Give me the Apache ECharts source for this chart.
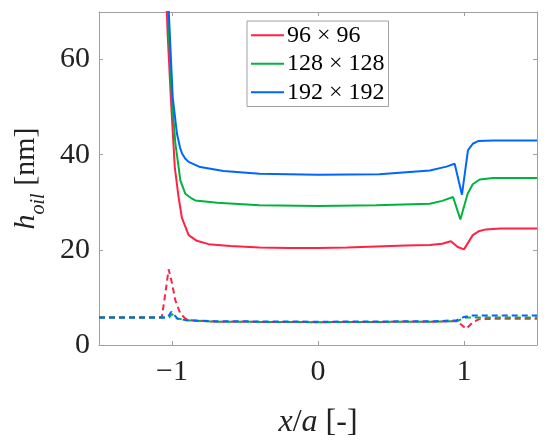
<!DOCTYPE html>
<html>
<head>
<meta charset="utf-8">
<script src="https://cdn.jsdelivr.net/npm/echarts@6/dist/echarts.min.js"></script>
<style>
  html, body { margin: 0; padding: 0; background: #fff; }
  #chart { width: 550px; height: 448px; }
</style>
</head>
<body>
<div id="chart"></div>
<script>
// grid sizes
const xTicks = [-1, 0, 1]
const yTicks = [0, 20, 40, 60]
const legendNames = ['96 × 96', '128 × 128', '192 × 192']
const colors = ['#ff2244', '#00b33c', '#0066ff']

// solid curves: h_oil on the mid line, [x/a, nm]
const solid96 = [
  [-1.04, 74], [-1.030, 65.5], [-1.007, 51.4], [-0.981, 37.4], [-0.955, 31.1],
  [-0.932, 26.7], [-0.886, 23.1], [-0.83, 21.9], [-0.75, 21.2], [-0.6, 20.8],
  [-0.4, 20.5], [-0.2, 20.4], [0, 20.4], [0.2, 20.5], [0.4, 20.7], [0.6, 20.9],
  [0.766, 21.0], [0.85, 21.3], [0.91, 21.8], [0.957, 20.6], [1.0, 20.1],
  [1.06, 23.1], [1.1, 23.9], [1.15, 24.3], [1.25, 24.5], [1.5, 24.5]
]
const solid128 = [
  [-1.033, 74], [-1.0, 51.4], [-0.977, 42.4], [-0.955, 37.5], [-0.943, 34.6],
  [-0.909, 31.8], [-0.87, 30.9], [-0.84, 30.4], [-0.69, 29.9], [-0.4, 29.4],
  [0, 29.2], [0.4, 29.4], [0.766, 29.7], [0.85, 30.3], [0.925, 31.1],
  [0.975, 26.4], [1.025, 31.8], [1.06, 33.8], [1.107, 34.8], [1.2, 35.1], [1.5, 35.1]
]
const solid192 = [
  [-1.028, 74], [-0.995, 52], [-0.966, 44.4], [-0.945, 41.5], [-0.932, 40.3],
  [-0.91, 39.2], [-0.886, 38.5], [-0.807, 37.4], [-0.647, 36.6], [-0.4, 36.0],
  [0, 35.8], [0.42, 35.9], [0.766, 36.7], [0.88, 37.5], [0.936, 38.1],
  [0.986, 31.6], [1.027, 40.9], [1.06, 42.3], [1.1, 42.9], [1.2, 43.0], [1.5, 43.0]
]

// dashed curves
const dashed96 = [
  [-1.5, 5.8], [-1.07, 5.8], [-1.045, 11], [-1.023, 15.9], [-1.0, 13],
  [-0.977, 9.4], [-0.943, 6.6], [-0.91, 5.6], [-0.875, 5.2], [-0.7, 4.9],
  [0, 4.8], [0.8, 4.9], [0.95, 5.0], [0.98, 4.3], [1.016, 3.4], [1.06, 4.8],
  [1.1, 5.4], [1.2, 5.5], [1.5, 5.5]
]
const dashed128 = [
  [-1.5, 5.8], [-1.02, 5.8], [-1.0, 6.5], [-0.97, 5.6], [-0.9, 5.2], [-0.7, 4.9],
  [0, 4.8], [0.8, 4.9], [0.95, 5.0], [0.98, 5.4], [1.02, 5.8], [1.05, 5.8],
  [1.2, 5.8], [1.5, 5.8]
]
const dashed192 = [
  [-1.5, 5.8], [-1.03, 5.8], [-1.005, 7.0], [-0.96, 5.5], [-0.9, 5.2], [-0.7, 5.0],
  [0, 4.9], [0.8, 5.0], [0.95, 5.2], [1.0, 5.9], [1.05, 6.2], [1.2, 6.2], [1.5, 6.2]
]

const serif = "'Liberation Serif', 'Times New Roman', serif"
const axisGray = '#a0a0a0'

function frameAxis(extra) {
  return Object.assign({
    type: 'value',
    axisLine: { show: true, onZero: false, lineStyle: { color: axisGray, width: 1 } },
    axisTick: { show: true, inside: true, length: 4, lineStyle: { color: axisGray } },
    splitLine: { show: false }
  }, extra)
}

function line(name, data, color, dashed) {
  return {
    name: name,
    type: 'line',
    data: data,
    showSymbol: false,
    symbol: 'none',
    clip: true,
    lineStyle: { color: color, width: 2, type: dashed ? [6, 4] : 'solid' },
    itemStyle: { color: color },
    z: dashed ? 3 : 2
  }
}

const chart = echarts.init(document.getElementById('chart'))
chart.setOption({
  animation: false,
  grid: { left: 99, right: 13, top: 12, bottom: 103 },
  legend: {
    data: legendNames,
    orient: 'vertical',
    left: 247,
    top: 21,
    icon: 'rect',
    itemWidth: 33,
    itemHeight: 2,
    itemGap: 0,
    padding: [0, 4, 0, 4],
    backgroundColor: '#fff',
    borderColor: axisGray,
    borderWidth: 1,
    textStyle: { fontFamily: serif, fontSize: 24, color: '#000', lineHeight: 28.5, padding: [0, 0, 0, -2] }
  },
  xAxis: [
    frameAxis({
      min: -1.5, max: 1.5, position: 'bottom',
      axisTick: { show: true, inside: true, length: 4, lineStyle: { color: axisGray }, customValues: xTicks },
      axisLabel: {
        customValues: xTicks, margin: 12,
        fontFamily: serif, fontSize: 30, color: '#222',
        formatter: v => (v < 0 ? '\u2212' + Math.abs(v) : String(v))
      },
      name: '{i|x}{n|/}{i|a}{n| [-]}',
      nameLocation: 'middle',
      nameGap: 62,
      nameTextStyle: {
        rich: {
          i: { fontFamily: serif, fontSize: 32, fontStyle: 'italic', color: '#222' },
          n: { fontFamily: serif, fontSize: 32, color: '#222' }
        }
      }
    }),
    frameAxis({
      min: -1.5, max: 1.5, position: 'top',
      axisTick: { show: true, inside: true, length: 4, lineStyle: { color: axisGray }, customValues: xTicks },
      axisLabel: { show: false }
    })
  ],
  yAxis: [
    frameAxis({
      min: 0, max: 70, position: 'left',
      axisTick: { show: true, inside: true, length: 4, lineStyle: { color: axisGray }, customValues: yTicks },
      axisLabel: { customValues: yTicks, margin: 9, fontFamily: serif, fontSize: 30, color: '#222' },
      name: '{i|h}{s|oil}{n| [nm]}',
      nameLocation: 'middle',
      nameRotate: 90,
      nameGap: 52,
      nameTextStyle: {
        rich: {
          i: { fontFamily: serif, fontSize: 30, fontStyle: 'italic', color: '#222', verticalAlign: 'bottom' },
          s: { fontFamily: serif, fontSize: 20, fontStyle: 'italic', color: '#222', verticalAlign: 'bottom', padding: [0, 0, -8, 0] },
          n: { fontFamily: serif, fontSize: 30, color: '#222', verticalAlign: 'bottom' }
        }
      }
    }),
    frameAxis({
      min: 0, max: 70, position: 'right',
      axisTick: { show: true, inside: true, length: 4, lineStyle: { color: axisGray }, customValues: yTicks },
      axisLabel: { show: false }
    })
  ],
  series: [
    line(legendNames[0], solid96, colors[0], false),
    line(legendNames[1], solid128, colors[1], false),
    line(legendNames[2], solid192, colors[2], false),
    line('dashed 96', dashed96, colors[0], true),
    line('dashed 128', dashed128, colors[1], true),
    line('dashed 192', dashed192, colors[2], true)
  ]
})
</script>
</body>
</html>
